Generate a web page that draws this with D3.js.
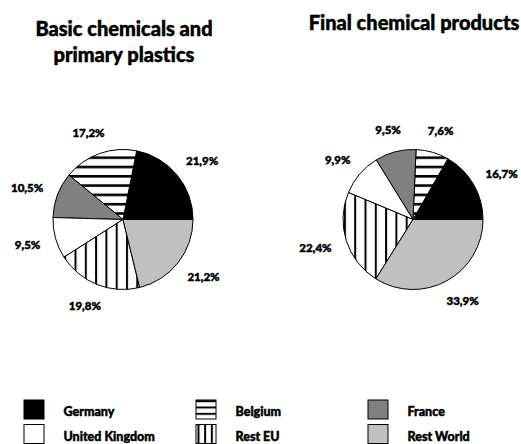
<!DOCTYPE html>
<html>
<head>
<meta charset="utf-8">
<script src="https://cdn.jsdelivr.net/npm/d3@7"></script>
<style>
  html, body { margin: 0; padding: 0; background: #fff; }
  svg { display: block; }
  text { font-family: Lato, "Open Sans", sans-serif; font-weight: 900; fill: #000; stroke: #000; stroke-width: 0.45px; }
</style>
</head>
<body>
<svg id="chart" width="521" height="444"></svg>
<script>
// Market shares by region, in slice order (counter-clockwise from 3 o'clock)
const regions = ["Germany", "Belgium", "France", "United Kingdom", "Rest EU", "Rest World"];
const basicShares = [21.9, 17.2, 10.5, 9.5, 19.8, 21.2];
const finalShares = [16.7, 7.6, 9.5, 9.9, 22.4, 33.9];
const basicTitle = ["Basic chemicals and", "primary plastics"];
const finalTitle = ["Final chemical products"];

const svg = d3.select("#chart");

// Fills: solids and hatch patterns
const defs = svg.append("defs");
function hatch(id, w, h, horizontal, thick, ox, oy) {
  const p = defs.append("pattern").attr("id", id)
    .attr("patternUnits", "userSpaceOnUse")
    .attr("x", ox).attr("y", oy)
    .attr("width", w).attr("height", h);
  p.append("rect").attr("width", w).attr("height", h).attr("fill", "#fff");
  if (horizontal) p.append("rect").attr("width", w).attr("height", thick).attr("fill", "#000");
  else p.append("rect").attr("width", thick).attr("height", h).attr("fill", "#000");
}
hatch("hstripe", 10, 9.3, true, 2.6, 0, 2);
hatch("vstripe", 10.3, 10, false, 2, 3, 0);

const fills = d3.scaleOrdinal()
  .domain(regions)
  .range(["#000000", "url(#hstripe)", "#808080", "#ffffff", "url(#vstripe)", "#c0c0c0"]);

const fmt = v => d3.format(".1f")(v).replace(".", ",") + "%";

const pie = d3.pie().sort(null).value(d => d.value)
  .startAngle(Math.PI / 2).endAngle(Math.PI / 2 - 2 * Math.PI);

const radius = 70;
const arc = d3.arc().innerRadius(0).outerRadius(radius);

// Horizontal placement of the two pies
const xPie = d3.scalePoint().domain(["basic", "final"]).range([123, 413]);
const cy = 219.5;

function drawPie(key, shares, titleLines, titleBaseline) {
  const cx = xPie(key);
  const g = svg.append("g").attr("transform", `translate(${cx},${cy})`);
  const data = regions.map((r, i) => ({ region: r, value: shares[i] }));
  const arcs = pie(data);

  g.selectAll("path.slice").data(arcs).join("path")
    .attr("class", "slice")
    .attr("d", arc)
    .attr("fill", d => fills(d.data.region))
    .attr("stroke", "#000")
    .attr("stroke-width", 1)
    .attr("stroke-linejoin", "round");

  // Value labels outside each slice
  const lbl = g.selectAll("text.val").data(arcs).join("text")
    .attr("class", "val")
    .attr("font-size", 11.5)
    .attr("text-anchor", "middle")
    .attr("dominant-baseline", "central")
    .text(d => fmt(d.data.value));
  lbl.each(function(d) {
    const b = this.getBBox();
    const a = (d.startAngle + d.endAngle) / 2;
    const r0 = 86;
    const x = Math.sin(a) * r0 + Math.sin(a) * b.width / 2;
    const y = -Math.cos(a) * r0 - Math.cos(a) * b.height / 2;
    d3.select(this).attr("x", x).attr("y", y);
  });

  // Title above the pie
  svg.append("text")
    .attr("x", cx + 1)
    .attr("y", titleBaseline)
    .attr("text-anchor", "middle")
    .attr("font-size", 20)
    .selectAll("tspan").data(titleLines).join("tspan")
    .attr("x", cx + 1)
    .attr("dy", (d, i) => i === 0 ? 0 : 26)
    .text(d => d);
}

const swatchW = 20, swatchH = 19;
const colX = d3.scaleOrdinal().domain([0, 1, 2]).range([24, 196, 368]);
const rowY = d3.scaleOrdinal().domain([0, 1]).range([400, 424.5]);

drawPie("basic", basicShares, basicTitle, 36);
drawPie("final", finalShares, finalTitle, 30);

// Legend: three columns, two rows
const keyFill = r => {
  if (r === "Belgium") return "url(#hstripeKey)";
  if (r === "Rest EU") return "url(#vstripeKey)";
  return fills(r);
};
const bi = regions.indexOf("Belgium"), ei = regions.indexOf("Rest EU");
hatch("hstripeKey", swatchW, swatchH / 3, true, 2, colX(bi % 3), rowY(Math.floor(bi / 3)) + 5.5);
hatch("vstripeKey", swatchW / 3, swatchH, false, 2, colX(ei % 3) + 5.5, rowY(Math.floor(ei / 3)));

const legend = svg.append("g");
const item = legend.selectAll("g").data(regions).join("g")
  .attr("transform", (d, i) => `translate(${colX(i % 3)},${rowY(Math.floor(i / 3))})`);
item.append("rect")
  .attr("width", swatchW).attr("height", swatchH)
  .attr("fill", d => keyFill(d))
  .attr("stroke", "#000").attr("stroke-width", 1);
item.append("text")
  .attr("x", 39.5)
  .attr("y", 16)
  .attr("font-size", 12.5)
  .text(d => d);
</script>
</body>
</html>
